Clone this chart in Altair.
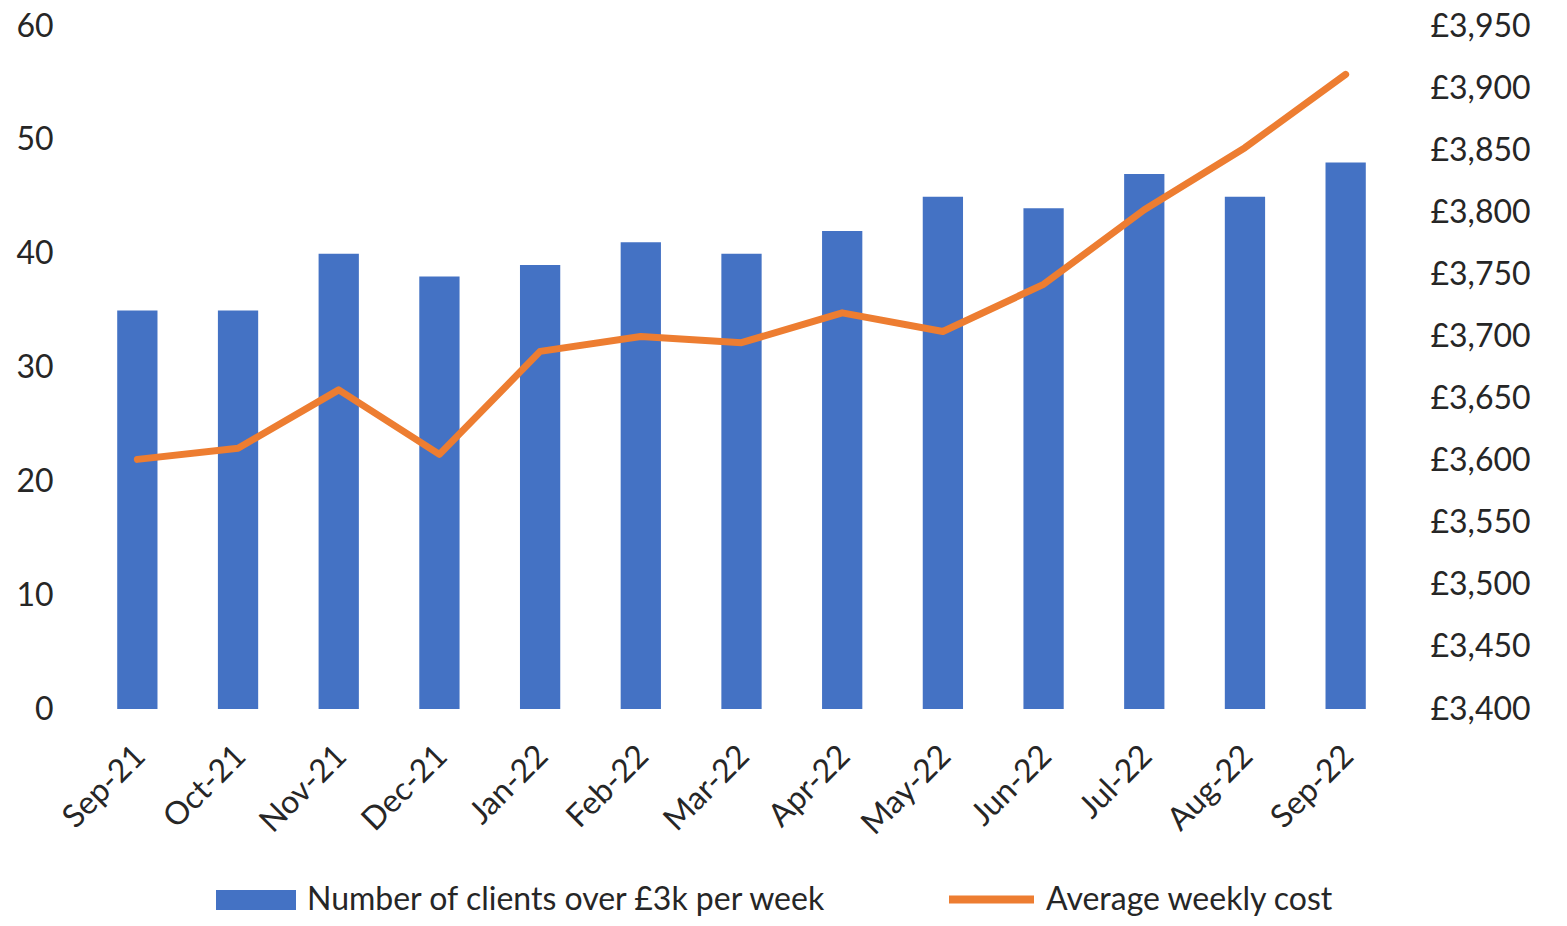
import altair as alt
import pandas as pd

months = ["Sep-21", "Oct-21", "Nov-21", "Dec-21", "Jan-22", "Feb-22", "Mar-22",
          "Apr-22", "May-22", "Jun-22", "Jul-22", "Aug-22", "Sep-22"]
clients = [35, 35, 40, 38, 39, 41, 40, 42, 45, 44, 47, 45, 48]
cost = [3601, 3610, 3657, 3605, 3688, 3700, 3695, 3719, 3704, 3742, 3802, 3852, 3911]
left_ticks = [0, 10, 20, 30, 40, 50, 60]
right_ticks = [3400, 3450, 3500, 3550, 3600, 3650, 3700, 3750, 3800, 3850, 3900, 3950]
series_bar = "Number of clients over £3k per week"
series_line = "Average weekly cost"

df = pd.DataFrame({"month": months, "clients": clients, "cost": cost,
                   "s1": series_bar, "s2": series_line})

FONT = "Lato"
TXT = "#262626"
FS = 32

x = alt.X("month:N", sort=months, title=None,
          scale=alt.Scale(paddingInner=0.6, paddingOuter=0.3),
          axis=alt.Axis(labelAngle=-45, labelFontSize=FS, labelFont=FONT,
                        labelColor=TXT, domain=False, ticks=False,
                        labelPadding=31, labelOffset=-8))

bars = alt.Chart(df).mark_bar().encode(
    x=x,
    y=alt.Y("clients:Q", title=None,
            scale=alt.Scale(domain=[0, 60], nice=False),
            axis=alt.Axis(orient="left", values=left_ticks, grid=False,
                          domain=False, ticks=False, labelPadding=34,
                          labelFontSize=FS, labelFont=FONT, labelColor=TXT)),
    fill=alt.Fill("s1:N", scale=alt.Scale(range=["#4472C4"]),
                  legend=alt.Legend(title=None, orient="none", legendX=128,
                                    legendY=833, symbolType="M-1,-0.25H1V0.25H-1Z",
                                    symbolSize=6400, symbolOpacity=1,
                                    labelFontSize=FS, labelFont=FONT,
                                    labelColor=TXT, labelOffset=10, padding=0,
                                    labelLimit=1000)),
)

line = alt.Chart(df).mark_line(strokeWidth=7, strokeCap="round",
                               strokeJoin="round").encode(
    x=x,
    y=alt.Y("cost:Q", title=None,
            scale=alt.Scale(domain=[3400, 3950], nice=False, zero=False),
            axis=alt.Axis(orient="right", values=right_ticks, grid=False,
                          domain=False, ticks=False, labelPadding=34,
                          labelExpr="'£' + format(datum.value, ',')",
                          labelFontSize=FS, labelFont=FONT, labelColor=TXT)),
    stroke=alt.Stroke("s2:N", scale=alt.Scale(range=["#ED7D31"]),
                      legend=alt.Legend(title=None, orient="none", legendX=858,
                                        legendY=827, symbolType="stroke",
                                        symbolSize=7225, symbolStrokeWidth=8,
                                        labelFontSize=FS, labelFont=FONT,
                                        labelColor=TXT, labelOffset=8, padding=0,
                                        labelLimit=1000)),
)

chart = alt.layer(bars, line).resolve_scale(
    y="independent", fill="independent", stroke="independent"
).properties(
    width=1309, height=683,
    background="white",
    padding={"left": 79, "top": 18, "right": 163, "bottom": 209},
    autosize=alt.AutoSizeParams(type="none"),
).configure_view(strokeWidth=0, stroke=None)

chart.save("out.html", embed_options={"renderer": "svg", "actions": False})
